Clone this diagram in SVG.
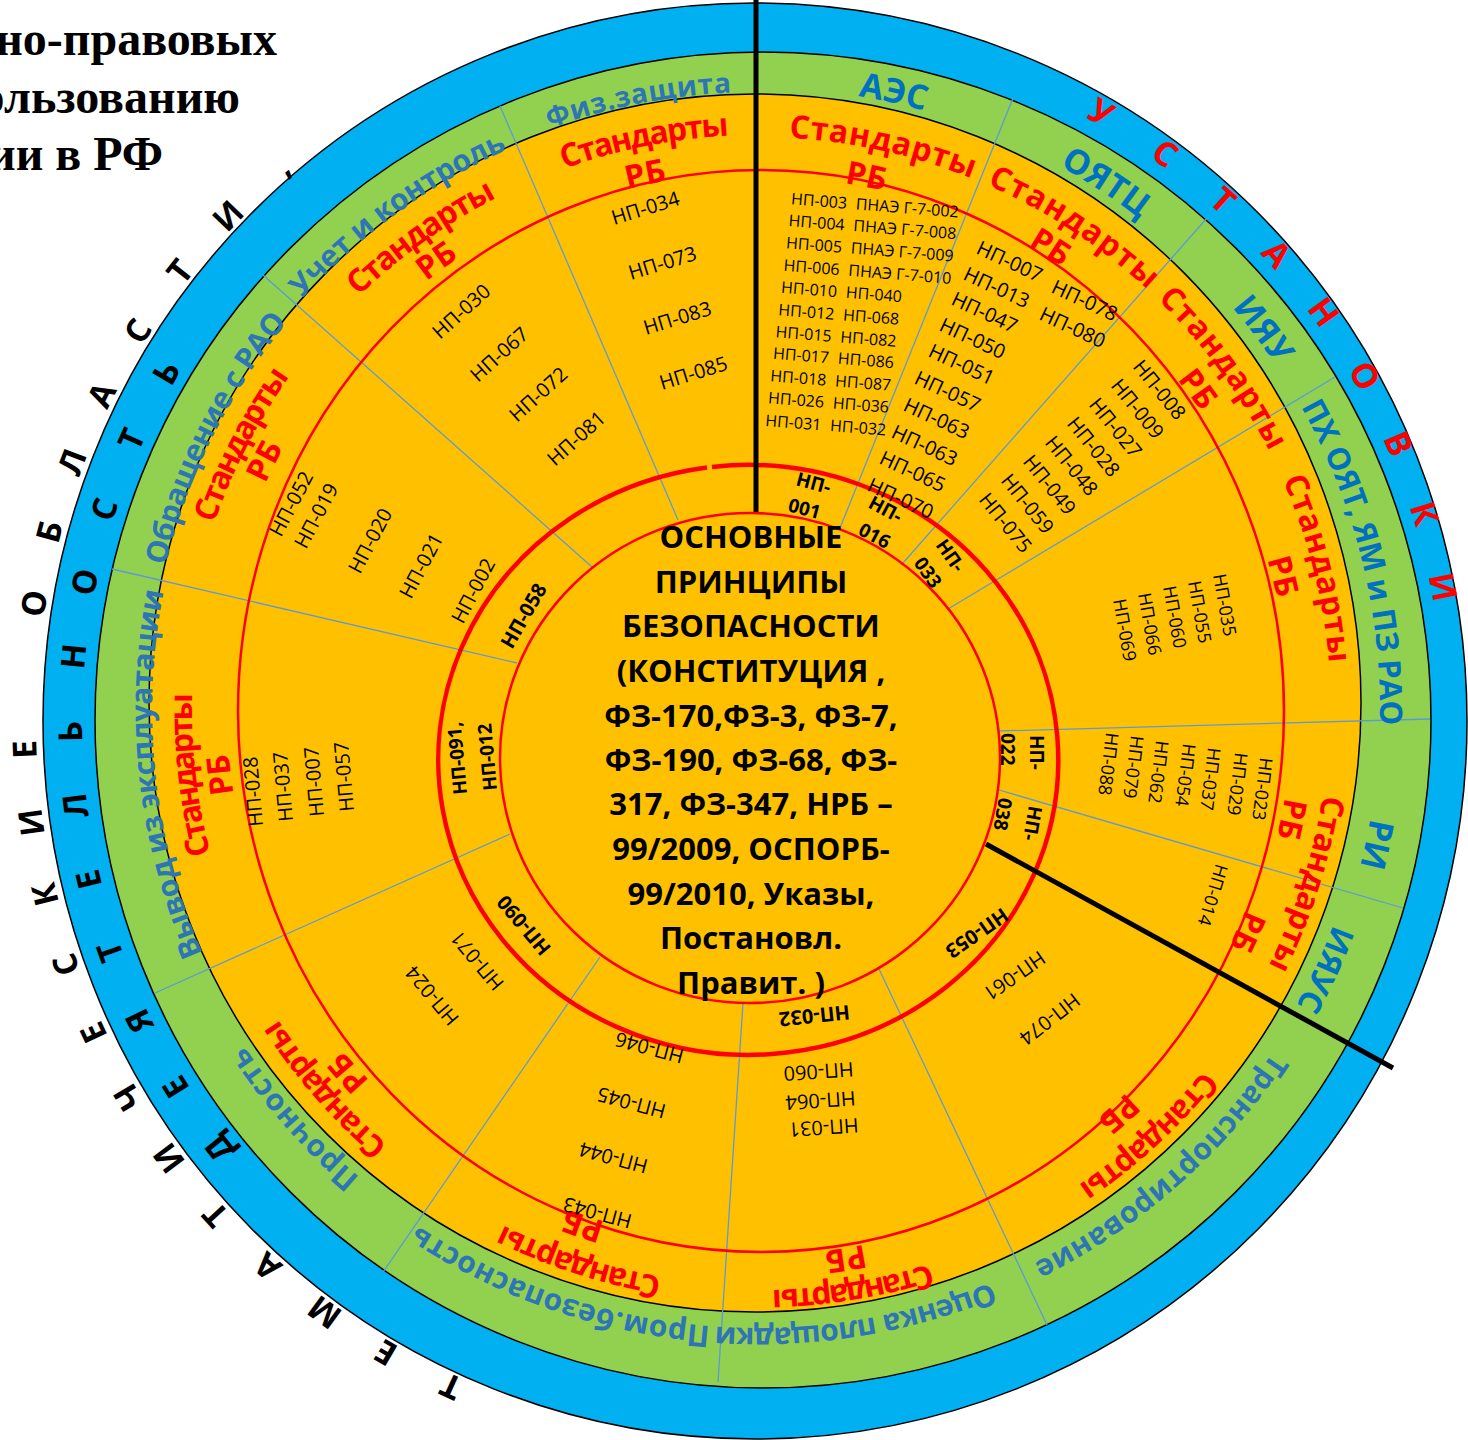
<svg xmlns="http://www.w3.org/2000/svg" width="1468" height="1440" viewBox="0 0 1468 1440">
<defs>
<style>
.ring{stroke:#000;stroke-width:1.5}
.dv{stroke:#5B9BD5;stroke-width:1.3;fill:none}
.blk{stroke:#000;stroke-width:5;fill:none}
.grn{font-family:"Open Sans","Noto Sans",sans-serif;font-weight:bold;font-size:30px;fill:#2E75B6}
.grn2{fill:#0070C0}
.std{font-family:"Open Sans","Noto Sans",sans-serif;font-weight:bold;font-size:32px;fill:#FF0000}
.np{font-family:"Open Sans","Noto Sans",sans-serif;font-size:20px;fill:#000}
.np16{font-family:"Open Sans","Noto Sans",sans-serif;font-size:16px;fill:#000}
.np18{font-family:"Open Sans","Noto Sans",sans-serif;font-size:18px;fill:#000}
.npb{font-family:"Open Sans","Noto Sans",sans-serif;font-size:20px;font-weight:bold;fill:#000}
.npb19{font-family:"Open Sans","Noto Sans",sans-serif;font-size:19px;font-weight:bold;fill:#000}
.lt{font-family:"Open Sans","Noto Sans",sans-serif;font-weight:bold;font-size:33px;fill:#000;text-anchor:middle}
.lr{font-family:"Open Sans","Noto Sans",sans-serif;font-weight:bold;font-size:34px;fill:#FF0000;text-anchor:middle}
.ctr{font-family:"Open Sans","Noto Sans",sans-serif;font-weight:bold;font-size:31px;fill:#000;text-anchor:middle}
.ttl{font-family:"Liberation Serif","Times New Roman",serif;font-weight:bold;font-size:48px;fill:#000;text-anchor:end}
</style>
<path id="a527" d="M-372.65,-372.65A527,527 0 0 1 372.65,-372.65"/>
<path id="a531" d="M-375.48,-375.48A531,531 0 0 1 375.48,-375.48"/>
<path id="a534" d="M-377.6,-377.6A534,534 0 0 1 377.6,-377.6"/>
<path id="a537" d="M-379.72,-379.72A537,537 0 0 1 379.72,-379.72"/>
<path id="a542" d="M-383.25,-383.25A542,542 0 0 1 383.25,-383.25"/>
<path id="a545" d="M-385.37,-385.37A545,545 0 0 1 385.37,-385.37"/>
<path id="a566" d="M-400.22,-400.22A566,566 0 0 1 400.22,-400.22"/>
<path id="a571" d="M-403.76,-403.76A571,571 0 0 1 403.76,-403.76"/>
<path id="a573" d="M-405.17,-405.17A573,573 0 0 1 405.17,-405.17"/>
<path id="a575" d="M-406.59,-406.59A575,575 0 0 1 406.59,-406.59"/>
<path id="a580" d="M-410.12,-410.12A580,580 0 0 1 410.12,-410.12"/>
<path id="a606" d="M-428.51,-428.51A606,606 0 0 1 428.51,-428.51"/>
<path id="a610" d="M-431.34,-431.34A610,610 0 0 1 431.34,-431.34"/>
<path id="a614" d="M-434.17,-434.17A614,614 0 0 1 434.17,-434.17"/>
<path id="a618" d="M-437,-437A618,618 0 0 1 437,-437"/>
<path id="a622" d="M-439.82,-439.82A622,622 0 0 1 439.82,-439.82"/>
</defs>

<g id="title">
<text class="ttl" x="277" y="55">но-правовых</text>
<text class="ttl" x="240" y="113">ользованию</text>
<text class="ttl" x="163" y="170">ии в РФ</text>
</g>

<g id="rings">
<ellipse class="ring" cx="755" cy="721" rx="712" ry="718" fill="#00B0F0"/>
<circle class="ring" cx="763" cy="720" r="668" fill="#92D050"/>
<ellipse class="ring" cx="755" cy="703" rx="606" ry="609" fill="#FFC000"/>
</g>

<g id="connectors">
<path class="dv" d="M840,528L1013,98"/>
<path class="dv" d="M903,563L1207,218"/>
<path class="dv" d="M948,609L1335,377"/>
<path class="dv" d="M999,731L1430,719"/>
<path class="dv" d="M999,790L1403,908"/>
<path class="dv" d="M879,969L1047,1325"/>
<path class="dv" d="M743,1003L718,1382"/>
<path class="dv" d="M600,957L383,1272"/>
<path class="dv" d="M510,834L155,993"/>
<path class="dv" d="M517,663L112,569"/>
<path class="dv" d="M592,567L263,275"/>
<path class="dv" d="M678,520L500,106"/>
<ellipse cx="761" cy="711" rx="523" ry="541" fill="none" stroke="#FF0000" stroke-width="2.5"/>
<path d="M712,466.9A310,295 0 1 1 707,467.5" fill="none" stroke="#FF0000" stroke-width="4.5"/>
<path class="blk" d="M756,0L756,515"/>
<path class="blk" d="M986,844L1393,1068"/>
</g>

<g id="center">
<ellipse cx="750" cy="758" rx="250" ry="245" fill="#FFC000" stroke="#FF0000" stroke-width="2.5"/>
<text class="ctr" x="751" y="548">ОСНОВНЫЕ</text>
<text class="ctr" x="751" y="593">ПРИНЦИПЫ</text>
<text class="ctr" x="751" y="637">БЕЗОПАСНОСТИ</text>
<text class="ctr" x="751" y="682">(КОНСТИТУЦИЯ ,</text>
<text class="ctr" x="751" y="727">ФЗ-170,ФЗ-3, ФЗ-7,</text>
<text class="ctr" x="751" y="771">ФЗ-190, ФЗ-68, ФЗ-</text>
<text class="ctr" x="751" y="815">317, ФЗ-347, НРБ –</text>
<text class="ctr" x="751" y="860">99/2009, ОСПОРБ-</text>
<text class="ctr" x="751" y="905">99/2010, Указы,</text>
<text class="ctr" x="751" y="949">Постановл.</text>
<text class="ctr" x="751" y="994">Правит. )</text>
</g>

<g id="outer-letters" transform="translate(755 722)">
<text class="lt" transform="rotate(204.6) translate(0 -719)">Т</text>
<text class="lt" transform="rotate(210.35) translate(0 -719)">Е</text>
<text class="lt" transform="rotate(216.1) translate(0 -719)">М</text>
<text class="lt" transform="rotate(221.85) translate(0 -719)">А</text>
<text class="lt" transform="rotate(227.6) translate(0 -719)">Т</text>
<text class="lt" transform="rotate(233.35) translate(0 -719)">И</text>
<text class="lt" transform="rotate(239.1) translate(0 -719)">Ч</text>
<text class="lt" transform="rotate(244.85) translate(0 -719)">Е</text>
<text class="lt" transform="rotate(250.6) translate(0 -719)">С</text>
<text class="lt" transform="rotate(256.35) translate(0 -719)">К</text>
<text class="lt" transform="rotate(262.1) translate(0 -719)">И</text>
<text class="lt" transform="rotate(267.85) translate(0 -719)">Е</text>
<text class="lt" transform="rotate(279.35) translate(0 -719)">О</text>
<text class="lt" transform="rotate(285.1) translate(0 -719)">Б</text>
<text class="lt" transform="rotate(290.85) translate(0 -719)">Л</text>
<text class="lt" transform="rotate(296.6) translate(0 -719)">А</text>
<text class="lt" transform="rotate(302.35) translate(0 -719)">С</text>
<text class="lt" transform="rotate(308.1) translate(0 -719)">Т</text>
<text class="lt" transform="rotate(313.85) translate(0 -719)">И</text>
<text class="lt" transform="rotate(319.6) translate(0 -719)">,</text>
<text class="lt" transform="rotate(231.5) translate(0 -673)">Д</text>
<text class="lt" transform="rotate(237.8) translate(0 -673)">Е</text>
<text class="lt" transform="rotate(244.1) translate(0 -673)">Я</text>
<text class="lt" transform="rotate(250.4) translate(0 -673)">Т</text>
<text class="lt" transform="rotate(256.7) translate(0 -673)">Е</text>
<text class="lt" transform="rotate(263.0) translate(0 -673)">Л</text>
<text class="lt" transform="rotate(269.2) translate(0 -673)">Ь</text>
<text class="lt" transform="rotate(275.5) translate(0 -673)">Н</text>
<text class="lt" transform="rotate(281.8) translate(0 -673)">О</text>
<text class="lt" transform="rotate(288.1) translate(0 -673)">С</text>
<text class="lt" transform="rotate(294.4) translate(0 -673)">Т</text>
<text class="lt" transform="rotate(300.7) translate(0 -673)">Ь</text>
<text class="lr" transform="rotate(29.6) translate(0 -689)">У</text>
<text class="lr" transform="rotate(35.8) translate(0 -689)">С</text>
<text class="lr" transform="rotate(41.9) translate(0 -689)">Т</text>
<text class="lr" transform="rotate(48.1) translate(0 -689)">А</text>
<text class="lr" transform="rotate(54.2) translate(0 -689)">Н</text>
<text class="lr" transform="rotate(60.4) translate(0 -689)">О</text>
<text class="lr" transform="rotate(66.6) translate(0 -689)">В</text>
<text class="lr" transform="rotate(72.7) translate(0 -689)">К</text>
<text class="lr" transform="rotate(78.9) translate(0 -689)">И</text>
</g>

<g id="areas" transform="translate(758 710)">
<g transform="rotate(12.4)"><text class="grn grn2" style="font-size:34px" text-anchor="middle"><textPath href="#a622" startOffset="50%">АЭС</textPath></text></g>
<g transform="rotate(33.4)"><text class="grn grn2" style="font-size:34px" text-anchor="middle"><textPath href="#a622" startOffset="50%">ОЯТЦ</textPath></text></g>
<g transform="rotate(53)"><text class="grn grn2" style="font-size:34px" text-anchor="middle"><textPath href="#a622" startOffset="50%">ИЯУ</textPath></text></g>
<g transform="rotate(76.1)"><text class="grn grn2" style="font-size:31px" text-anchor="middle"><textPath href="#a622" startOffset="50%" textLength="332" lengthAdjust="spacing">ПХ ОЯТ, ЯМ и ПЗ РАО</textPath></text></g>
<g transform="rotate(102.3)"><text class="grn grn2" style="font-size:34px" text-anchor="middle"><textPath href="#a622" startOffset="50%">РИ</textPath></text></g>
<g transform="rotate(114.6)"><text class="grn grn2" style="font-size:32px" text-anchor="middle"><textPath href="#a614" startOffset="50%">ИЯУС</textPath></text></g>
<g transform="rotate(138.6)"><text class="grn" text-anchor="middle"><textPath href="#a618" startOffset="50%" textLength="322" lengthAdjust="spacing">Транспортирование</textPath></text></g>
<g transform="rotate(170.9)"><text class="grn" text-anchor="middle"><textPath href="#a618" startOffset="50%" textLength="282" lengthAdjust="spacing">Оценка площадки</textPath></text></g>
<g transform="rotate(198.9)"><text class="grn" text-anchor="middle"><textPath href="#a618" startOffset="50%" textLength="312" lengthAdjust="spacing">Пром.безопасность</textPath></text></g>
<g transform="rotate(228.6)"><text class="grn" text-anchor="middle"><textPath href="#a614" startOffset="50%" textLength="175" lengthAdjust="spacing">Прочность</textPath></text></g>
<g transform="rotate(263.8)"><text class="grn" text-anchor="middle"><textPath href="#a606" startOffset="50%" textLength="370" lengthAdjust="spacing">Вывод из эксплуатации</textPath></text></g>
<g transform="rotate(296.6)"><text class="grn" text-anchor="middle"><textPath href="#a610" startOffset="50%" textLength="275" lengthAdjust="spacing">Обращение с РАО</textPath></text></g>
<g transform="rotate(324)"><text class="grn" text-anchor="middle"><textPath href="#a614" startOffset="50%" textLength="255" lengthAdjust="spacing">Учет и контроль</textPath></text></g>
<g transform="rotate(348.9)"><text class="grn" style="font-size:28px" text-anchor="middle"><textPath href="#a618" startOffset="50%" textLength="186" lengthAdjust="spacing">Физ.защита</textPath></text></g>
</g>

<g id="standards" transform="translate(758 710)">
<g transform="rotate(12.5)"><text class="std" text-anchor="middle"><textPath href="#a573" startOffset="50%" textLength="188" lengthAdjust="spacing">Стандарты</textPath></text></g>
<g transform="rotate(33.2)"><text class="std" text-anchor="middle"><textPath href="#a573" startOffset="50%" textLength="193" lengthAdjust="spacing">Стандарты</textPath></text></g>
<g transform="rotate(53.7)"><text class="std" text-anchor="middle"><textPath href="#a573" startOffset="50%" textLength="190" lengthAdjust="spacing">Стандарты</textPath></text></g>
<g transform="rotate(75.8)"><text class="std" text-anchor="middle"><textPath href="#a573" startOffset="50%" textLength="190" lengthAdjust="spacing">Стандарты</textPath></text></g>
<g transform="rotate(107.6)"><text class="std" text-anchor="middle"><textPath href="#a571" startOffset="50%" textLength="180" lengthAdjust="spacing">Стандарты</textPath></text></g>
<g transform="rotate(137.5)"><text class="std" text-anchor="middle"><textPath href="#a573" startOffset="50%" textLength="171" lengthAdjust="spacing">Стандарты</textPath></text></g>
<g transform="rotate(170.7)"><text class="std" text-anchor="middle"><textPath href="#a580" startOffset="50%" textLength="161" lengthAdjust="spacing">Стандарты</textPath></text></g>
<g transform="rotate(198)"><text class="std" text-anchor="middle"><textPath href="#a575" startOffset="50%" textLength="168" lengthAdjust="spacing">Стандарты</textPath></text></g>
<g transform="rotate(228.8)"><text class="std" text-anchor="middle"><textPath href="#a571" startOffset="50%" textLength="168" lengthAdjust="spacing">Стандарты</textPath></text></g>
<g transform="rotate(263.5)"><text class="std" text-anchor="middle"><textPath href="#a566" startOffset="50%" textLength="162" lengthAdjust="spacing">Стандарты</textPath></text></g>
<g transform="rotate(297.2)"><text class="std" text-anchor="middle"><textPath href="#a575" startOffset="50%" textLength="166" lengthAdjust="spacing">Стандарты</textPath></text></g>
<g transform="rotate(324.5)"><text class="std" text-anchor="middle"><textPath href="#a575" startOffset="50%" textLength="170" lengthAdjust="spacing">Стандарты</textPath></text></g>
<g transform="rotate(348.7)"><text class="std" text-anchor="middle"><textPath href="#a575" startOffset="50%" textLength="169" lengthAdjust="spacing">Стандарты</textPath></text></g>
<g transform="rotate(11.5)"><text class="std" text-anchor="middle"><textPath href="#a534" startOffset="50%">РБ</textPath></text></g>
<g transform="rotate(32.3)"><text class="std" text-anchor="middle"><textPath href="#a537" startOffset="50%">РБ</textPath></text></g>
<g transform="rotate(53.9)"><text class="std" text-anchor="middle"><textPath href="#a534" startOffset="50%">РБ</textPath></text></g>
<g transform="rotate(75.7)"><text class="std" text-anchor="middle"><textPath href="#a531" startOffset="50%">РБ</textPath></text></g>
<g transform="rotate(101.6)"><text class="std" text-anchor="middle"><textPath href="#a534" startOffset="50%">РБ</textPath></text></g>
<g transform="rotate(114.4)"><text class="std" text-anchor="middle"><textPath href="#a527" startOffset="50%">РБ</textPath></text></g>
<g transform="rotate(138.2)"><text class="std" text-anchor="middle"><textPath href="#a531" startOffset="50%">РБ</textPath></text></g>
<g transform="rotate(170.9)"><text class="std" text-anchor="middle"><textPath href="#a545" startOffset="50%">РБ</textPath></text></g>
<g transform="rotate(198.8)"><text class="std" text-anchor="middle"><textPath href="#a534" startOffset="50%">РБ</textPath></text></g>
<g transform="rotate(228.5)"><text class="std" text-anchor="middle"><textPath href="#a537" startOffset="50%">РБ</textPath></text></g>
<g transform="rotate(263.1)"><text class="std" text-anchor="middle"><textPath href="#a531" startOffset="50%">РБ</textPath></text></g>
<g transform="rotate(296.8)"><text class="std" text-anchor="middle"><textPath href="#a542" startOffset="50%">РБ</textPath></text></g>
<g transform="rotate(324.4)"><text class="std" text-anchor="middle"><textPath href="#a542" startOffset="50%">РБ</textPath></text></g>
<g transform="rotate(348.1)"><text class="std" text-anchor="middle"><textPath href="#a537" startOffset="50%">РБ</textPath></text></g>
</g>

<g id="sector-aes">
<text class="np16" transform="translate(790.7 204.3) rotate(4.5)">НП-003<tspan x="65">ПНАЭ Г-7-002</tspan></text>
<text class="np16" transform="translate(788.3 226) rotate(4.5)">НП-004<tspan x="65">ПНАЭ Г-7-008</tspan></text>
<text class="np16" transform="translate(785.7 248.3) rotate(4.5)">НП-005<tspan x="65">ПНАЭ Г-7-009</tspan></text>
<text class="np16" transform="translate(783.3 270.7) rotate(4.5)">НП-006<tspan x="65">ПНАЭ Г-7-010</tspan></text>
<text class="np16" transform="translate(780.7 292.7) rotate(4.5)">НП-010<tspan x="65">НП-040</tspan></text>
<text class="np16" transform="translate(778 315.3) rotate(4.5)">НП-012<tspan x="65">НП-068</tspan></text>
<text class="np16" transform="translate(775.3 337.3) rotate(4.5)">НП-015<tspan x="65">НП-082</tspan></text>
<text class="np16" transform="translate(772.7 358.7) rotate(4.5)">НП-017<tspan x="65">НП-086</tspan></text>
<text class="np16" transform="translate(770 381.3) rotate(4.5)">НП-018<tspan x="65">НП-087</tspan></text>
<text class="np16" transform="translate(767.7 403.3) rotate(4.5)">НП-026<tspan x="65">НП-036</tspan></text>
<text class="np16" transform="translate(765 426) rotate(4.5)">НП-031<tspan x="65">НП-032</tspan></text>
</g>

<g id="sector-oyatc">
<text class="np" transform="translate(975 253) rotate(25)">НП-007</text>
<text class="np" transform="translate(1050 292) rotate(25)">НП-078</text>
<text class="np" transform="translate(962 279) rotate(25)">НП-013</text>
<text class="np" transform="translate(1038 319) rotate(25)">НП-080</text>
<text class="np" transform="translate(950 304) rotate(25)">НП-047</text>
<text class="np" transform="translate(938 330) rotate(25)">НП-050</text>
<text class="np" transform="translate(927 356) rotate(25)">НП-051</text>
<text class="np" transform="translate(913 383) rotate(25)">НП-057</text>
<text class="np" transform="translate(902 410) rotate(25)">НП-063</text>
<text class="np" transform="translate(890 437) rotate(25)">НП-063</text>
<text class="np" transform="translate(878 463) rotate(25)">НП-065</text>
<text class="np" transform="translate(866 490) rotate(25)">НП-070</text>
</g>

<g id="sector-iyau">
<text class="np" transform="translate(1132 367) rotate(51)">НП-008</text>
<text class="np" transform="translate(1110 386) rotate(51)">НП-009</text>
<text class="np" transform="translate(1088 405) rotate(51)">НП-027</text>
<text class="np" transform="translate(1066 424) rotate(51)">НП-028</text>
<text class="np" transform="translate(1044 443) rotate(51)">НП-048</text>
<text class="np" transform="translate(1022 462) rotate(51)">НП-049</text>
<text class="np" transform="translate(1000 481) rotate(51)">НП-059</text>
<text class="np" transform="translate(978 500) rotate(51)">НП-075</text>
</g>

<g id="sector-phoyat">
<text class="np18" transform="translate(1213 575) rotate(80)">НП-035</text>
<text class="np18" transform="translate(1188 582) rotate(80)">НП-055</text>
<text class="np18" transform="translate(1163 587) rotate(80)">НП-060</text>
<text class="np18" transform="translate(1138 594) rotate(80)">НП-066</text>
<text class="np18" transform="translate(1113 600) rotate(80)">НП-069</text>
</g>

<g id="sector-ri">
<text class="np18" transform="translate(1260 757) rotate(97)">НП-023</text>
<text class="np18" transform="translate(1235 752) rotate(97)">НП-029</text>
<text class="np18" transform="translate(1208 747) rotate(97)">НП-037</text>
<text class="np18" transform="translate(1183 743) rotate(97)">НП-054</text>
<text class="np18" transform="translate(1156 740) rotate(97)">НП-062</text>
<text class="np18" transform="translate(1131 735) rotate(97)">НП-079</text>
<text class="np18" transform="translate(1106 732) rotate(97)">НП-088</text>
</g>

<g id="sector-iyaus">
<text class="np18" transform="translate(1216 863) rotate(107)">НП-014</text>
</g>

<g id="sector-transport">
<text class="np" transform="translate(1039 950) rotate(145)">НП-061</text>
<text class="np" transform="translate(1073 992) rotate(142)">НП-074</text>
</g>

<g id="sector-site">
<text class="np" transform="translate(853 1062) rotate(176)">НП-060</text>
<text class="np" transform="translate(855 1091) rotate(176)">НП-064</text>
<text class="np" transform="translate(858 1118) rotate(176)">НП-031</text>
</g>

<g id="sector-industrial">
<text class="np" transform="translate(685 1050) rotate(195)">НП-046</text>
<text class="np" transform="translate(667 1105) rotate(195)">НП-045</text>
<text class="np" transform="translate(649 1160) rotate(195)">НП-044</text>
<text class="np" transform="translate(633 1215) rotate(195)">НП-043</text>
</g>

<g id="sector-strength">
<text class="np" transform="translate(505 983) rotate(230)">НП-071</text>
<text class="np" transform="translate(460 1018) rotate(230)">НП-024</text>
</g>

<g id="sector-decommission">
<text class="np" transform="translate(263 826) rotate(-95)">НП-028</text>
<text class="np" transform="translate(293 821) rotate(-95)">НП-037</text>
<text class="np" transform="translate(324 816) rotate(-95)">НП-007</text>
<text class="np" transform="translate(354 811) rotate(-95)">НП-057</text>
</g>

<g id="sector-rao">
<text class="np" transform="translate(281 538) rotate(-62)">НП-052</text>
<text class="np" transform="translate(306 550) rotate(-62)">НП-019</text>
<text class="np" transform="translate(360 575) rotate(-62)">НП-020</text>
<text class="np" transform="translate(411 600) rotate(-62)">НП-021</text>
<text class="np" transform="translate(463 625) rotate(-62)">НП-002</text>
</g>

<g id="sector-accounting">
<text class="np" transform="translate(440 340) rotate(-42)">НП-030</text>
<text class="np" transform="translate(478 383) rotate(-42)">НП-067</text>
<text class="np" transform="translate(517 423) rotate(-42)">НП-072</text>
<text class="np" transform="translate(555 467) rotate(-42)">НП-081</text>
</g>

<g id="sector-physprot">
<text class="np" transform="translate(614 225) rotate(-17)">НП-034</text>
<text class="np" transform="translate(631 280) rotate(-17)">НП-073</text>
<text class="np" transform="translate(646 335) rotate(-17)">НП-083</text>
<text class="np" transform="translate(662 390) rotate(-17)">НП-085</text>
</g>

<g id="inner-ring">
<text class="npb19" transform="translate(795 485) rotate(15)">НП-</text>
<text class="npb19" transform="translate(787 511) rotate(15)">001</text>
<text class="npb19" transform="translate(867 507) rotate(28)">НП-</text>
<text class="npb19" transform="translate(857 534) rotate(28)">016</text>
<text class="npb19" transform="translate(935 545) rotate(55)">НП-</text>
<text class="npb19" transform="translate(913 563) rotate(55)">033</text>
<text class="npb19" transform="translate(1030 735) rotate(90)">НП-</text>
<text class="npb19" transform="translate(1001 733) rotate(90)">022</text>
<text class="npb19" transform="translate(1029 805) rotate(100)">НП-</text>
<text class="npb19" transform="translate(999 797) rotate(100)">038</text>
<text class="npb" transform="translate(1002 907) rotate(145)">НП-053</text>
<text class="npb" transform="translate(849 1005) rotate(174)">НП-032</text>
<text class="npb" transform="translate(552 948) rotate(230)">НП-090</text>
<text class="npb19" transform="translate(467 794) rotate(-95)">НП-091,</text>
<text class="npb19" transform="translate(497 790) rotate(-95)">НП-012</text>
<text class="npb" transform="translate(512 650) rotate(-60)">НП-058</text>
</g>
</svg>
